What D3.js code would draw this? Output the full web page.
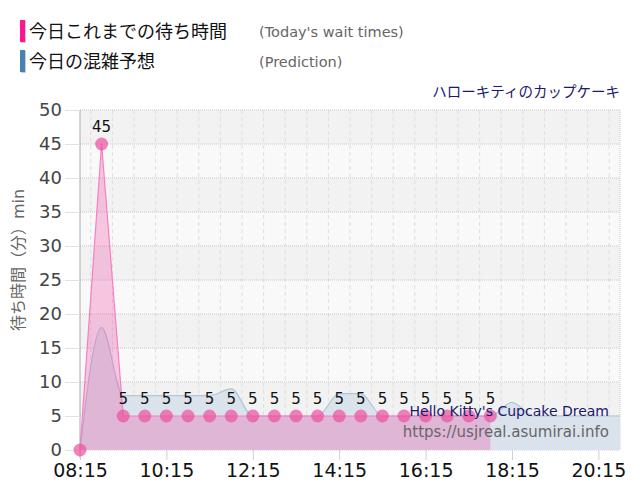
<!DOCTYPE html>
<html>
<head>
<meta charset="utf-8">
<script src="https://cdn.jsdelivr.net/npm/d3@7"></script>
<style>
  html, body { margin: 0; padding: 0; background: #fff; }
  text { font-family: "DejaVu Sans", "Noto Sans CJK JP", sans-serif; }
</style>
</head>
<body>
<div id="container"></div>
<script>
// datos: tiempos de espera de hoy y predicción
const waitTimes  = ['08:15','08:45','09:15','09:45','10:15','10:45','11:15','11:45','12:15','12:45',
                    '13:15','13:45','14:15','14:45','15:15','15:45','16:15','16:45','17:15','17:45'];
const waitValues = [0, 45, 5, 5, 5, 5, 5, 5, 5, 5, 5, 5, 5, 5, 5, 5, 5, 5, 5, 5];

const predTimes  = ['08:15','08:45','09:15','09:45','10:15','10:45','11:15','11:45','12:15','12:45',
                    '13:15','13:45','14:15','14:45','15:15','15:45','16:15','16:45','17:15','17:45',
                    '18:15','18:45','19:15','19:45','20:15','20:45'];
const predValues = [0, 18, 8, 8, 8, 8, 8, 9, 5, 5, 5, 5, 8.3, 8.3, 5, 5, 5, 5, 5, 5, 7, 5, 5, 5, 5, 5];

const xTickLabels = ['08:15','10:15','12:15','14:15','16:15','18:15','20:15'];
const yTicks = [0, 5, 10, 15, 20, 25, 30, 35, 40, 45, 50];

const parse = d3.timeParse('%H:%M');
const wait = waitTimes.map((t, i) => ({ t: parse(t), v: waitValues[i] }));
const pred = predTimes.map((t, i) => ({ t: parse(t), v: predValues[i] }));

const width = 640, height = 500;
const margin = { top: 110, right: 20, bottom: 50, left: 80 };
const w = width - margin.left - margin.right;
const h = height - margin.top - margin.bottom;

const svg = d3.select('#container').append('svg')
  .attr('width', width).attr('height', height);

const g = svg.append('g').attr('transform', `translate(${margin.left},${margin.top})`);

const x = d3.scaleTime()
  .domain([parse(predTimes[0]), parse(predTimes[predTimes.length - 1])])
  .range([0, w]);
const y = d3.scaleLinear().domain([0, 50]).range([h, 0]);

// franjas alternas
yTicks.slice(0, -1).forEach((v, i) => {
  g.append('rect')
    .attr('x', 0).attr('y', y(v + 5))
    .attr('width', w).attr('height', y(v) - y(v + 5))
    .attr('fill', i % 2 === 0 ? '#f9f9f9' : '#f2f2f2');
});

// rejilla vertical cada 30 min
const grid30 = d3.timeMinute.every(30).range(x.domain()[0], d3.timeMinute.offset(x.domain()[1], 1));
g.selectAll('.vgrid').data(grid30).enter().append('line')
  .attr('x1', d => x(d)).attr('x2', d => x(d))
  .attr('y1', 0).attr('y2', h)
  .attr('stroke', '#dedede')
  .attr('stroke-dasharray', d => xTickLabels.includes(d3.timeFormat('%H:%M')(d)) ? null : '4 3');

// rejilla horizontal punteada
g.selectAll('.hgrid').data(yTicks).enter().append('line')
  .attr('x1', 0).attr('x2', w)
  .attr('y1', d => y(d)).attr('y2', d => y(d))
  .attr('stroke', '#c8c8c8')
  .attr('stroke-dasharray', '1 1');
g.append('line').attr('x1', w).attr('x2', w).attr('y1', 0).attr('y2', h)
  .attr('stroke', '#c8c8c8').attr('stroke-dasharray', '1 1');

// área de predicción
const predArea = d3.area().curve(d3.curveMonotoneX)
  .x(d => x(d.t)).y0(h).y1(d => y(d.v));
const predLine = d3.line().curve(d3.curveMonotoneX)
  .x(d => x(d.t)).y(d => y(d.v));
g.append('path').datum(pred).attr('d', predArea).attr('fill', '#dae3eb');
g.append('path').datum(pred).attr('d', predLine)
  .attr('fill', 'none').attr('stroke', '#b3c5d7').attr('stroke-width', 1.2);

// área de espera real
const waitArea = d3.area()
  .x(d => x(d.t)).y0(h).y1(d => y(d.v));
const waitLine = d3.line()
  .x(d => x(d.t)).y(d => y(d.v));
g.append('path').datum(wait).attr('d', waitArea).attr('fill', 'rgba(240,80,170,0.3)');
g.append('path').datum(wait).attr('d', waitLine)
  .attr('fill', 'none').attr('stroke', '#f77fc0').attr('stroke-width', 1.2);

// ejes
const yAxis = g.append('g')
  .call(d3.axisLeft(y).tickValues(yTicks).tickSize(15).tickPadding(3));
yAxis.select('.domain').attr('stroke', '#aaa').attr('d', `M0,0V${h + 8}`);
yAxis.selectAll('.tick line').attr('stroke', '#e2e2e2');
yAxis.selectAll('.tick text').attr('fill', '#444').style('font-size', '18px');

const xAxis = g.append('g')
  .attr('transform', `translate(0,${h})`)
  .call(d3.axisBottom(x).tickValues(xTickLabels.map(parse))
    .tickFormat(d3.timeFormat('%H:%M')).tickSize(10).tickPadding(4));
xAxis.select('.domain').remove();
xAxis.selectAll('.tick line').attr('stroke', '#d0d0d0');
xAxis.selectAll('.tick text').attr('fill', '#111').style('font-size', '19px');

// puntos
g.selectAll('.dot').data(wait).enter().append('circle')
  .attr('cx', d => x(d.t)).attr('cy', d => y(d.v)).attr('r', 6.5)
  .attr('fill', 'rgba(236,80,160,0.7)');

// etiquetas de valor
g.selectAll('.lbl').data(wait.filter(d => d.v > 0)).enter().append('text')
  .attr('x', d => x(d.t)).attr('y', d => y(d.v) - 12)
  .attr('text-anchor', 'middle')
  .style('font-size', '15px').attr('fill', '#111')
  .text(d => d.v);

// título del eje Y
svg.append('text')
  .attr('transform', 'translate(24,260) rotate(-90)')
  .attr('text-anchor', 'middle')
  .attr('fill', '#666').style('font-size', '16px')
  .text('待ち時間（分）min');

// leyenda
const legend = [
  { label: '今日これまでの待ち時間', sub: "(Today's wait times)", color: '#ff1493' },
  { label: '今日の混雑予想', sub: '(Prediction)', color: '#4682b4' }
];
legend.forEach((l, i) => {
  const ly = 20 + i * 30;
  svg.append('rect').attr('x', 21).attr('y', ly + 1).attr('width', 5).attr('height', 22).attr('fill', '#ccc');
  svg.append('rect').attr('x', 20).attr('y', ly).attr('width', 5).attr('height', 22).attr('fill', l.color);
  svg.append('text').attr('x', 29).attr('y', ly + 18)
    .style('font-size', '18px').attr('fill', '#111').text(l.label);
  svg.append('text').attr('x', 259).attr('y', ly + 17)
    .style('font-size', '14.5px').attr('fill', '#666').text(l.sub);
});

// título de la atracción
svg.append('text').attr('x', 620).attr('y', 97).attr('text-anchor', 'end')
  .style('font-size', '14.5px').attr('fill', '#191970').text('ハローキティのカップケーキ');

// marca de agua
svg.append('text').attr('x', 609).attr('y', 416).attr('text-anchor', 'end')
  .style('font-size', '14px').attr('fill', '#191970').text("Hello Kitty's Cupcake Dream");
svg.append('text').attr('x', 609).attr('y', 437).attr('text-anchor', 'end')
  .style('font-size', '15px').attr('fill', '#666').text('https://usjreal.asumirai.info');
</script>
</body>
</html>
